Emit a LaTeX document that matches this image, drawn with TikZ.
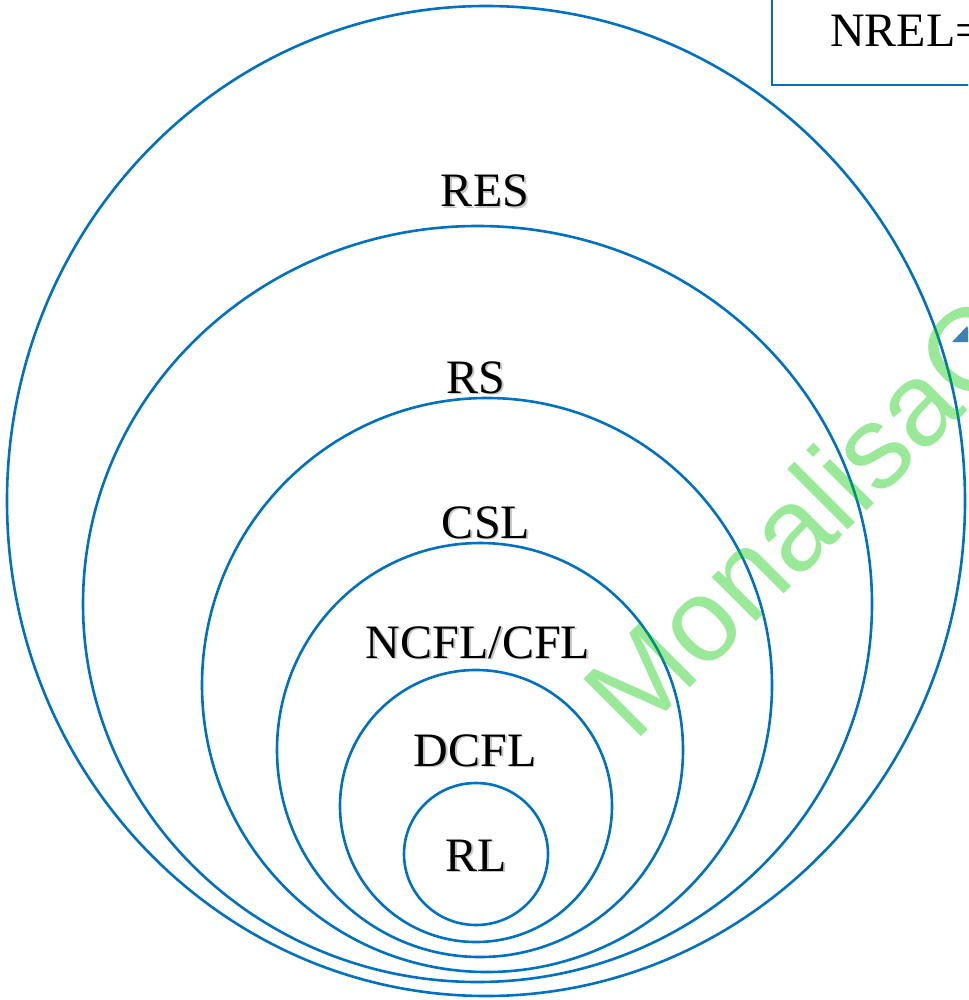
\documentclass[tikz,border=0pt]{standalone}
\usepackage{fontspec}
\setmainfont{Liberation Serif}
\newfontfamily\markfont{Liberation Sans}
\usetikzlibrary{arrows.meta}

\definecolor{ringblue}{RGB}{0,112,192}
\definecolor{tipblue}{RGB}{62,128,184}
\definecolor{markgreen}{RGB}{0,200,0}

% label with a soft drop shadow
\newcommand\shlabel[1]{\rlap{\kern1.8pt\raisebox{-1.8pt}{\textcolor{black!22}{#1}}}#1}

\tikzset{
  ring/.style={draw=ringblue, line width=2.6pt},
  lang/.style={font=\fontsize{48}{50}\selectfont, inner sep=0pt, anchor=base},
}

\begin{document}
\begin{tikzpicture}[x=1pt,y=-1pt]
    \useasboundingbox (0,0) rectangle (968,1000);
    \clip (0,0) rectangle (968,1000);

    % nested language classes
    \draw[ring] (486,501) ellipse [x radius=479, y radius=495];
    \draw[ring] (477.5,604) ellipse [x radius=394.5, y radius=378];
    \draw[ring] (487,685) ellipse [x radius=285, y radius=287];
    \draw[ring] (480,750) ellipse [x radius=203, y radius=207];
    \draw[ring] (476,806) ellipse [x radius=136, y radius=136];
    \draw[ring] (476,854) ellipse [x radius=72, y radius=71];

    \node[lang] (res) at (485,207) {\shlabel{RES}};
    \node[lang] (rs) at (476,393) {\shlabel{RS}};
    \node[lang] (csl) at (486,538) {\shlabel{CSL}};
    \node[lang] (cfl) at (478,658) {\shlabel{NCFL/CFL}};
    \node[lang] (dcfl) at (475,766) {\shlabel{DCFL}};
    \node[lang] (rl) at (476,871) {\shlabel{RL}};

    % top right box
    \draw[ringblue, line width=2pt] (772,-10) rectangle (1100,85);
    \node[lang, anchor=base west] (nrel) at (830,47) {NREL=};

    \coordinate (tipfrom) at (1052,300);
    \coordinate (tipto) at (952,342);
    \draw[tipblue, line width=2pt, -{Triangle[length=20pt,width=17pt]}] (tipfrom) -- (tipto);

    % watermark
    \node[font=\markfont\fontsize{118}{118}\selectfont, text=markgreen, text opacity=0.4,
          rotate=45, anchor=base west, inner sep=0pt] (mark) at (634,744) {MonalisaC};
  \end{tikzpicture}
\end{document}
